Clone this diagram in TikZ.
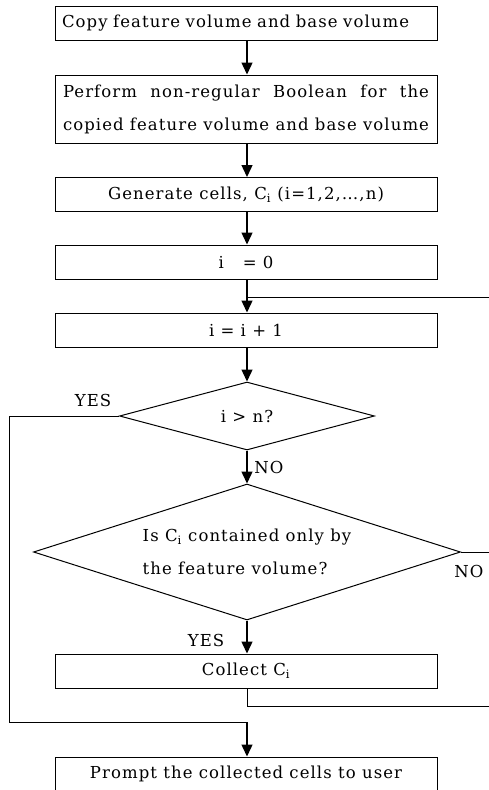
\documentclass[tikz,border=0pt]{standalone}
\usepackage{fontspec}
\setmainfont{DejaVu Serif}[LetterSpace=6.5]
\usetikzlibrary{arrows.meta,positioning,shapes.geometric}

\begin{document}
\begin{tikzpicture}[x=1pt,y=-1pt,font=\fontsize{16.5}{33}\selectfont,
        box/.style={draw,line width=1pt,minimum width=382pt,minimum height=34pt,inner sep=0pt},
        decision/.style={draw,line width=1pt,diamond,aspect=3.1,inner sep=0pt},
        flow/.style={line width=1.4pt,-{Triangle[length=12pt,width=11pt]}},
        link/.style={line width=1pt}]
        \useasboundingbox (0,0) rectangle (489,790);
        \clip (0,0) rectangle (489,790);

        % Preparation boxes
        \node[box,text width=368pt,align=left,inner xsep=7pt] (copyBox) at (246,23) {Copy feature volume and base volume};
        \node[box,minimum height=68pt,text width=366pt,align=justify] (boolBox) at (246,109) {Perform non-regular Boolean for the\linebreak copied feature volume and base volume};
        \node[box] (cellBox) at (246,194.5) {Generate cells, C\textsubscript{i} (i=1,2,\dots,n)};
        \node[box] (initBox) at (246,262) {i\ \ \ = 0};
        \node[box] (incBox) at (246,330) {i = i + 1};

        % Decisions
        \node[decision,minimum width=255pt,minimum height=68pt] (checkDec) at (247,416) {i > n?};
        \node[decision,minimum width=427pt,minimum height=136pt,align=left] (containDec) at (247,552) {Is C\textsubscript{i} contained only by\\the feature volume?};

        % Lower boxes
        \node[box] (collectBox) at (246,671) {Collect C\textsubscript{i}};
        \node[box] (promptBox) at (246,774) {Prompt the collected cells to user};

        % Loop corners (right one runs off the sheet)
        \coordinate (loopIn) at (247,297);
        \coordinate (loopTop) at (500,297);
        \coordinate (loopMid) at (500,552);
        \coordinate (loopBot) at (500,706);
        \coordinate (collectOut) at (247,706);
        \coordinate (exitTop) at (9,416);
        \coordinate (exitBot) at (9,722);
        \coordinate (exitIn) at (247,722);

        % Straight arrows
        \draw[flow] (copyBox.south -| 247,0) -- (boolBox.north -| 247,0);
        \draw[flow] (boolBox.south -| 247,0) -- (cellBox.north -| 247,0);
        \draw[flow] (cellBox.south -| 247,0) -- (initBox.north -| 247,0);
        \draw[flow] (initBox.south -| 247,0) -- (incBox.north -| 247,0);
        \draw[flow] (incBox.south -| 247,0) -- (checkDec.north);
        \draw[flow] (checkDec.south) -- (containDec.north);
        \draw[flow] (containDec.south) -- (collectBox.north -| 247,0);

        % Loop back to the increment
        \draw[link] (containDec.east) -- (loopMid) -- (loopTop) -- (loopIn);
        \draw[link] (collectBox.south -| 247,0) -- (collectOut) -- (loopBot) -- (loopMid);

        % Exit when every cell is done
        \draw[link] (checkDec.west) -- (exitTop) -- (exitBot) -- (exitIn);
        \draw[flow] (exitIn) -- (promptBox.north -| 247,0);

        % Branch labels
        \node (yesLeft) at (93,400) {YES};
        \node (noDown) at (269,467) {NO};
        \node (noRight) at (469,571) {NO};
        \node (yesDown) at (206,640) {YES};
\end{tikzpicture}
\end{document}
